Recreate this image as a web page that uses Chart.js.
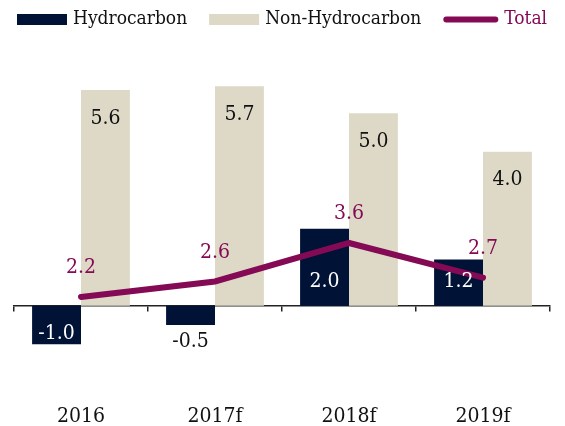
<!DOCTYPE html>
<html>
<head>
<meta charset="utf-8">
<script src="https://cdn.jsdelivr.net/npm/chart.js@4.4.0/dist/chart.umd.min.js"></script>
<style>
  html, body { margin: 0; padding: 0; background: #fff; }
  #wrap { width: 565px; height: 426px; }
</style>
</head>
<body>
<div id="wrap"><canvas id="c" width="565" height="426"></canvas></div>
<script>
const categories = ['2016', '2017f', '2018f', '2019f'];
const hydrocarbon = [-1.0, -0.5, 2.0, 1.2];
const nonHydrocarbon = [5.6, 5.7, 5.0, 4.0];
const total = [2.2, 2.6, 3.6, 2.7];
const seriesNames = ['Hydrocarbon', 'Non-Hydrocarbon', 'Total'];

const NAVY = '#001236';
const BEIGE = '#DED9C7';
const MAROON = '#850A55';
const FONT = "'DejaVu Serif Condensed', 'DejaVu Serif', serif";

const Y_MIN = -2, Y_MAX = 6.9, LINE_SHIFT = 1.97;

const labelPlugin = {
  id: 'valueLabels',
  afterDatasetsDraw(chart) {
    const ctx = chart.ctx;
    ctx.save();
    ctx.font = "21px " + FONT;
    ctx.textAlign = 'center';
    ctx.textBaseline = 'middle';
    chart.data.datasets.forEach((ds, di) => {
      const meta = chart.getDatasetMeta(di);
      meta.data.forEach((el, i) => {
        const v = ds.data[i];
        const txt = v.toFixed(1);
        let y, color;
        if (ds.type === 'line') {
          y = el.y - 29; color = MAROON;
        } else if (di === 1) {
          y = el.y + 28; color = '#111';
        } else {
          const h = Math.abs(el.base - el.y);
          if (v >= 0) { y = el.base - 24; color = '#fff'; }
          else if (h > 30) { y = el.base + 28; color = '#fff'; }
          else { y = el.y + 17; color = '#111'; }
        }
        ctx.fillStyle = color;
        ctx.fillText(txt, el.x, y);
      });
    });
    ctx.restore();
  }
};

// Legend drawn from the datasets' names and colours
const legendPlugin = {
  id: 'customLegend',
  afterDraw(chart) {
    const ctx = chart.ctx;
    ctx.save();
    ctx.font = "19px " + FONT;
    ctx.textBaseline = 'middle';
    const boxW = 50, boxH = 11, gap = 6, itemGap = 22, cy = 19.5;
    const items = chart.data.datasets.map(ds => ({
      text: ds.label, isLine: ds.type === 'line',
      color: ds.type === 'line' ? ds.borderColor : ds.backgroundColor,
      w: (ds.type === 'line' ? 55 : boxW)
    }));
    let x = 17;
    items.forEach((it, i) => {
      it.tw = ctx.measureText(it.text).width;
      if (i) x += itemGap;
      if (it.isLine) {
        ctx.strokeStyle = it.color; ctx.lineWidth = 6; ctx.lineCap = 'round';
        ctx.beginPath(); ctx.moveTo(x + 3, cy); ctx.lineTo(x + it.w - 3, cy); ctx.stroke();
        ctx.fillStyle = it.color;
      } else {
        ctx.fillStyle = it.color;
        ctx.fillRect(x, cy - boxH / 2, it.w, boxH);
        ctx.fillStyle = '#111';
      }
      x += it.w + gap;
      ctx.fillText(it.text, x, cy);
      x += it.tw;
    });
    ctx.restore();
  }
};

new Chart(document.getElementById('c'), {
  data: {
    labels: categories,
    datasets: [
      { type: 'bar', label: seriesNames[0], data: hydrocarbon, backgroundColor: NAVY, borderWidth: 0, order: 1,
        categoryPercentage: 0.73, barPercentage: 1.0, xAxisID: 'x', yAxisID: 'y' },
      { type: 'bar', label: seriesNames[1], data: nonHydrocarbon, backgroundColor: BEIGE, borderWidth: 0, order: 1,
        categoryPercentage: 0.73, barPercentage: 1.0, xAxisID: 'x', yAxisID: 'y' },
      { type: 'line', label: seriesNames[2], data: total, borderColor: MAROON, backgroundColor: MAROON,
        borderWidth: 6, borderCapStyle: 'round', borderJoinStyle: 'miter', pointRadius: 0, tension: 0, order: 0,
        xAxisID: 'x', yAxisID: 'y2' }
    ]
  },
  options: {
    responsive: false,
    animation: false,
    devicePixelRatio: 1,
    layout: { padding: { left: 14, right: 15, top: 40, bottom: -24 } },
    plugins: {
      tooltip: { enabled: false },
      legend: { display: false }
    },
    scales: {
      x: {
        type: 'category',
        position: { y: 0 },
        offset: true,
        grid: { display: true, offset: true, drawOnChartArea: false, drawTicks: true, tickLength: 5, color: '#222', lineWidth: 1.5 },
        border: { display: true, color: '#222', width: 1.5 },
        ticks: { display: false }
      },
      xb: {
        type: 'category',
        position: 'bottom',
        offset: true,
        grid: { display: false, drawTicks: false },
        border: { display: false },
        ticks: { color: '#111', padding: 21, font: { family: FONT, size: 21 } }
      },
      y: { type: 'linear', display: false, min: Y_MIN, max: Y_MAX },
      y2: { type: 'linear', display: false, min: Y_MIN + LINE_SHIFT, max: Y_MAX + LINE_SHIFT }
    }
  },
  plugins: [labelPlugin, legendPlugin]
});
</script>
</body>
</html>
